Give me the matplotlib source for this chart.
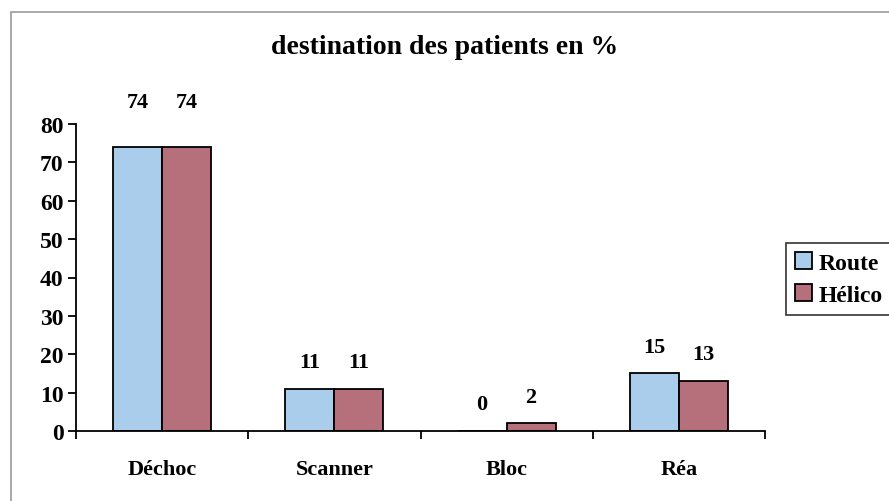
import matplotlib
matplotlib.use("Agg")
import matplotlib.pyplot as plt
import numpy as np
from matplotlib.patches import Rectangle

categories = ["Déchoc", "Scanner", "Bloc", "Réa"]
route = [74, 11, 0, 15]
helico = [74, 11, 2, 13]
series_names = ["Route", "Hélico"]
yticks = [0, 10, 20, 30, 40, 50, 60, 70, 80]

plt.rcParams['font.family'] = ['Liberation Serif', 'DejaVu Serif']
plt.rcParams['font.weight'] = 'bold'

fig = plt.figure(figsize=(8.89, 5.02), dpi=100)
fig.patch.set_facecolor('white')

# outer frame
fig.patches.append(Rectangle((11/889, -0.1), 1.2, 1 - 13/502 + 0.1, transform=fig.transFigure,
                             fill=False, edgecolor='#9a9a9a', linewidth=1.2))

ax = fig.add_axes([76/889, 1 - 432/502, (765 - 76)/889, (432 - 125)/502])
x = np.arange(len(categories))
w = 0.285
c_blue = '#a9cdea'
c_red = '#b5707c'
b1 = ax.bar(x - w/2, route, w, color=c_blue, edgecolor='black', linewidth=1.3, label=series_names[0])
b2 = ax.bar(x + w/2, helico, w, color=c_red, edgecolor='black', linewidth=1.3, label=series_names[1])

for bars, vals in ((b1, route), (b2, helico)):
    for rect, v in zip(bars, vals):
        off = 25 if v > 50 else 12
        ax.annotate(str(v), (rect.get_x() + rect.get_width()/2, v), xytext=(0, off),
                    textcoords='offset points', ha='center', va='bottom',
                    fontsize=16, fontweight='bold')

ax.set_xlim(-0.5, len(categories) - 0.5)
ax.set_ylim(0, 80)
ax.set_yticks(yticks)
ax.set_yticklabels([str(t) for t in yticks], fontsize=17, fontweight='bold')
ax.set_xticks(np.arange(len(categories) + 1) - 0.5)
ax.set_xticklabels([])
ax.set_xticks(x, minor=True)
ax.set_xticklabels(categories, minor=True, fontsize=16, fontweight='bold')
ax.tick_params(axis='x', which='minor', length=0, pad=20)
ax.tick_params(axis='x', which='major', length=6, width=1.3, direction='out')
ax.tick_params(axis='y', length=6, width=1.3, direction='out', pad=3)
for s in ('top', 'right'):
    ax.spines[s].set_visible(False)
for s in ('left', 'bottom'):
    ax.spines[s].set_linewidth(1.3)

fig.text(0.5, 1 - 48/502, "destination des patients en %", ha='center', va='center',
         fontsize=20, fontweight='bold')

leg = fig.legend(loc='center left', bbox_to_anchor=(786/889, 1 - 280/502), fontsize=17,
                 frameon=True, fancybox=False, edgecolor='black', handlelength=0.7,
                 handleheight=0.7, handletextpad=0.3, borderpad=0.4, labelspacing=0.45,
                 borderaxespad=0)
leg.get_frame().set_linewidth(1.2)
for t in leg.get_texts():
    t.set_fontweight('bold')

fig.savefig("out.png", dpi=100)
